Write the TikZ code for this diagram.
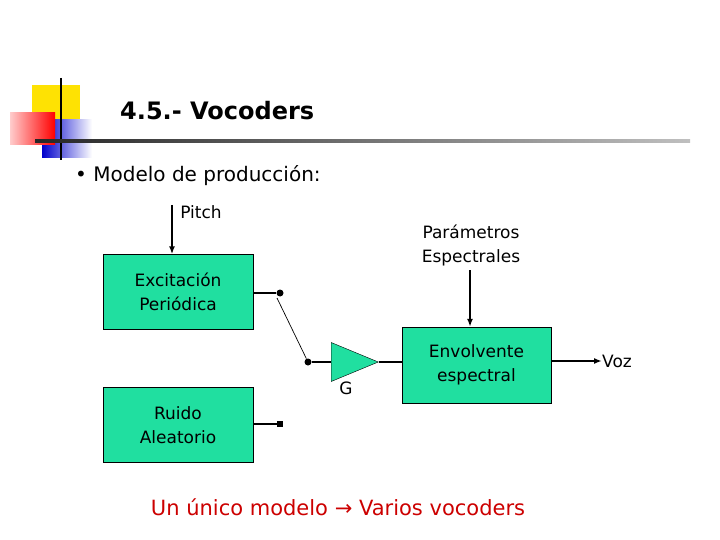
\documentclass[tikz,border=0pt]{standalone}
\usepackage{fontspec}
\setmainfont{DejaVu Sans}
\usetikzlibrary{arrows.meta,shapes.geometric}
\definecolor{boxg}{HTML}{20DFA0}
\definecolor{ured}{HTML}{CC0000}
\tikzset{
 blk/.style={draw=black,fill=boxg,minimum width=150pt,minimum height=75pt,inner sep=0pt,align=center,font=\fontsize{17}{24}\selectfont},
 lbl/.style={inner sep=0pt,align=center,font=\fontsize{17}{24}\selectfont},
 arr/.style={-{Latex[length=8pt,width=6pt]},line width=1.6pt},
 wire/.style={line width=1.6pt},
 dotn/.style={circle,fill=black,inner sep=0pt,minimum size=7pt}
}
\begin{document}
\begin{tikzpicture}[x=1pt,y=-1pt]
\useasboundingbox (0,0) rectangle (720,540);
% logo
\fill[yellow!85!orange] (32,85) rectangle (80,122);
\shade[left color=blue!80!black,right color=white] (42,120) rectangle (92,158);
\shade[left color=red!20,right color=red] (10,113) rectangle (55,145);
\draw[line width=2.5pt] (61,78) -- (61,160);
\shade[left color=black!85,right color=black!25] (35,140) rectangle (690,142.5);
\node[anchor=west,inner sep=0pt,font=\fontsize{24}{28}\selectfont\bfseries] (title) at (120,111) {4.5.- Vocoders};
\node[anchor=west,inner sep=0pt,font=\fontsize{20}{24}\selectfont] (bul) at (75,176) {• Modelo de producción:};
% blocks
\node[blk] (exc) at (178,292) {Excitación\\Periódica};
\node[blk] (rui) at (178,425) {Ruido\\Aleatorio};
\node[blk,minimum width=149pt,minimum height=76pt] (env) at (476.5,365) {Envolvente\\espectral};
\node[lbl] (pitch) at (201,212) {Pitch};
\coordinate (pt) at (172,205);
\draw[arr] (pt) -- (exc.north -| pt);
\node[lbl] (par) at (471,245) {Parámetros\\Espectrales};
\coordinate (pp) at (470,270);
\draw[arr] (pp) -- (env.north -| pp);
% switch
\node[dotn] (d1) at (280,293) {};
\draw[wire] (exc.east |- d1) -- (d1);
\node[fill=black,inner sep=0pt,minimum size=6pt] (d2) at (280,424) {};
\draw[wire] (rui.east |- d2) -- (d2);
\node[dotn] (d3) at (308,362) {};
\coordinate (sw) at (277,298);
\draw[line width=0.7pt] (sw) -- (d3);
\node[isosceles triangle,draw=black,fill=boxg,minimum height=31pt,minimum width=39pt,inner sep=0pt,anchor=west] (amp) at (331,362) {};
\draw[wire] (d3) -- (amp.west);
\draw[wire] (amp.east) -- (env.west |- amp.east);
\node[lbl] (g) at (346,388) {G};
\node[lbl,anchor=west] (voz) at (602,361) {Voz};
\draw[arr] (env.east |- voz) -- (voz.west);
\node[inner sep=0pt,text=ured,font=\fontsize{21}{24}\selectfont] (foot) at (338,507) {Un único modelo → Varios vocoders};
\end{tikzpicture}
\end{document}
